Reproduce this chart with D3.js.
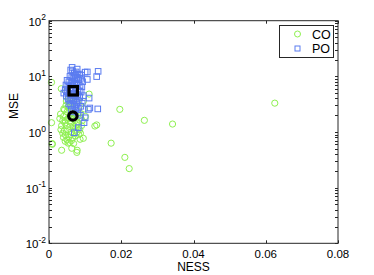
<!DOCTYPE html>
<html><head><meta charset="utf-8">
<script src="https://cdn.jsdelivr.net/npm/d3@7"></script>
<style>body{margin:0;background:#fff}svg{display:block}text{font-family:"Liberation Sans",Arial,sans-serif;fill:#000}</style>
</head><body>
<svg id="c" width="374" height="275"></svg>
<script>
const xTicks = [0, 0.02, 0.04, 0.06, 0.08];
const xTickLabels = ["0", "0.02", "0.04", "0.06", "0.08"];
const yTicks = [1e-2, 1e-1, 1e0, 1e1, 1e2];
const yTickExps = ["-2", "-1", "0", "1", "2"];
const seriesNames = ["CO", "PO"];
// CO circles: [NESS, MSE]
const coX = [0.0007,0.0034,0.0111,0.0095,0.0041,0.0196,0.0264,0.0342,0.0625,0.0132,0.0007,0.0032,0.0172,0.0095,0.0086,0.0009,0.0035,0.0077,0.0078,0.0063,0.0053,0.0210,0.0222,
 0.0040,0.0045,0.0050,0.0055,0.0060,0.0048,0.0052,0.0058,0.0062,0.0068,0.0072,0.0075,0.0080,0.0085,0.0090,0.0042,0.0038,0.0046,0.0055,0.0060,0.0065,0.0070,0.0073,0.0078,0.0082,0.0050,0.0045,0.0057,0.0062,0.0068,0.0035,0.0038,0.0043,0.0047,0.0053,0.0057,0.0065,0.0070,0.0074,0.0078,0.0083,0.0088,0.0092,0.0064,0.0058,0.0051,0.0044,0.0067,0.0076,0.0087,0.0040,0.0033,0.0030,0.0061,0.0069,0.0048,0.0098,0.0101,0.0054,0.0071,0.0127,0.0009];
const coY = [7.8,6.0,4.8,3.55,2.6,2.55,1.62,1.39,3.3,1.34,1.47,2.1,0.63,0.77,0.74,0.6,0.47,0.43,0.47,0.51,0.63,0.35,0.22,
 1.9,1.6,2.3,1.8,1.5,1.3,1.1,1.25,1.0,1.3,1.6,1.2,1.45,1.1,1.3,1.05,0.95,0.88,0.82,0.9,0.78,0.95,0.85,1.0,0.9,0.72,0.68,0.65,0.7,0.62,1.3,1.6,2.5,3.0,2.8,3.3,2.6,2.2,2.0,2.4,2.1,1.8,1.6,1.75,2.05,1.7,1.45,1.15,1.35,0.95,0.8,1.1,1.75,3.9,3.4,3.6,2.6,1.9,4.2,4.5,1.28,0.62];
// PO squares: [NESS, MSE]
const poX = [0.0136,0.0132,0.0135,0.0113,0.0111,0.0106,0.0106,0.0100,0.0070,0.0109,0.0100,0.0081,0.0097,
 0.0060,0.0065,0.0070,0.0075,0.0080,0.0085,0.0090,0.0058,0.0063,0.0068,0.0072,0.0077,0.0082,0.0087,0.0093,0.0050,0.0055,0.0061,0.0066,0.0071,0.0076,0.0081,0.0086,0.0091,0.0047,0.0052,0.0057,0.0062,0.0067,0.0074,0.0079,0.0084,0.0089,0.0045,0.0050,0.0055,0.0060,0.0065,0.0070,0.0075,0.0080,0.0085,0.0095,0.0048,0.0053,0.0058,0.0063,0.0068,0.0073,0.0078,0.0083,0.0092,0.0055,0.0060,0.0066,0.0071,0.0076,0.0081,0.0088,0.0062,0.0068,0.0074,0.0080,0.0065,0.0072,0.0078,0.0064,0.0087,0.0041];
const poY = [12.3,9.9,2.6,2.7,4.07,8.8,12.0,11.9,0.97,2.55,1.8,1.2,1.47,
 13.0,12.5,11.5,12.0,10.8,11.0,10.5,10.0,9.5,10.2,9.0,9.6,8.7,9.2,8.0,8.5,8.0,7.8,8.3,7.5,7.2,7.6,6.8,6.5,7.0,6.6,6.2,6.9,6.0,6.3,5.8,5.5,5.2,5.8,5.3,4.9,5.6,4.6,4.9,4.4,4.7,4.2,4.5,4.4,4.0,3.7,4.1,3.6,3.9,3.4,3.6,3.3,3.2,3.0,3.2,2.9,3.1,2.7,2.9,2.5,2.3,2.6,2.2,7.0,10.5,13.5,14.5,2.0,5.0];
// mean markers
const meanCO = [0.0066, 1.94];
const meanPO = [0.0067, 5.5];

const svg = d3.select("#c");
const L = 49, R = 338, T = 20.7, B = 243.3;
const x = d3.scaleLinear().domain([0, 0.08]).range([L, R]);
const y = d3.scaleLog().domain([1e-2, 1e2]).range([B, T]);
const green = "#8ef050", blue = "#5b7cf0", axc = "#262626";

// markers
const g = svg.append("g");
g.selectAll("circle.co").data(coX.map((v,i)=>[v,coY[i]])).join("circle")
  .attr("cx", d=>x(d[0])).attr("cy", d=>y(d[1])).attr("r", 3.1)
  .attr("fill","none").attr("stroke",green).attr("stroke-width",1);
g.selectAll("rect.po").data(poX.map((v,i)=>[v,poY[i]])).join("rect")
  .attr("x", d=>x(d[0])-2.8).attr("y", d=>y(d[1])-2.8).attr("width",5.6).attr("height",5.6)
  .attr("fill","none").attr("stroke",blue).attr("stroke-width",1);
g.append("circle").attr("cx",x(meanCO[0])).attr("cy",y(meanCO[1])).attr("r",4.2)
  .attr("fill","none").attr("stroke","#000").attr("stroke-width",3.2);
g.append("rect").attr("x",x(meanPO[0])-4.2).attr("y",y(meanPO[1])-4.2).attr("width",8.4).attr("height",8.4)
  .attr("fill","none").attr("stroke","#000").attr("stroke-width",3.2);

// axes box
const ax = svg.append("g").attr("stroke",axc).attr("fill","none").attr("stroke-width",1);
ax.append("rect").attr("x",L).attr("y",T).attr("width",R-L).attr("height",B-T);
const tl = 3;
xTicks.forEach(v=>{
  const px = Math.round(x(v))+0.5;
  ax.append("line").attr("x1",px).attr("x2",px).attr("y1",B).attr("y2",B-tl);
  ax.append("line").attr("x1",px).attr("x2",px).attr("y1",T).attr("y2",T+tl);
});
// log ticks major + minor
const logTicks = [];
for (let e=-2; e<2; e++) for (let m=1; m<10; m++) logTicks.push(m*Math.pow(10,e));
logTicks.push(100);
logTicks.forEach(v=>{
  const py = Math.round(y(v))+0.5;
  ax.append("line").attr("x1",L).attr("x2",L+tl).attr("y1",py).attr("y2",py);
  ax.append("line").attr("x1",R).attr("x2",R-tl).attr("y1",py).attr("y2",py);
});

// tick labels
xTicks.forEach((v,i)=>{
  svg.append("text").attr("x",x(v)).attr("y",258).attr("text-anchor","middle")
    .style("font-size","11.5px").text(xTickLabels[i]);
});
yTicks.forEach((v,i)=>{
  const t = svg.append("text").attr("x",46).attr("y",y(v)+5).attr("text-anchor","end").style("font-size","11.5px");
  t.append("tspan").text("10");
  t.append("tspan").attr("dy",-5.5).style("font-size","8.5px").text(yTickExps[i]);
});
svg.append("text").attr("x",193.5).attr("y",271).attr("text-anchor","middle").style("font-size","12px").text("NESS");
svg.append("text").attr("transform","translate(18,106) rotate(-90)").attr("text-anchor","middle").style("font-size","12px").text("MSE");

// legend
const lg = svg.append("g");
lg.append("rect").attr("x",279.5).attr("y",25.5).attr("width",54).attr("height",32)
  .attr("fill","#fff").attr("stroke",axc).attr("stroke-width",1);
lg.append("circle").attr("cx",297.5).attr("cy",34).attr("r",3).attr("fill","none").attr("stroke",green);
lg.append("rect").attr("x",295).attr("y",46).attr("width",5).attr("height",5).attr("fill","none").attr("stroke",blue);
lg.append("text").attr("x",312).attr("y",38.5).style("font-size","12.5px").text(seriesNames[0]);
lg.append("text").attr("x",312).attr("y",53).style("font-size","12.5px").text(seriesNames[1]);
</script>
</body></html>
